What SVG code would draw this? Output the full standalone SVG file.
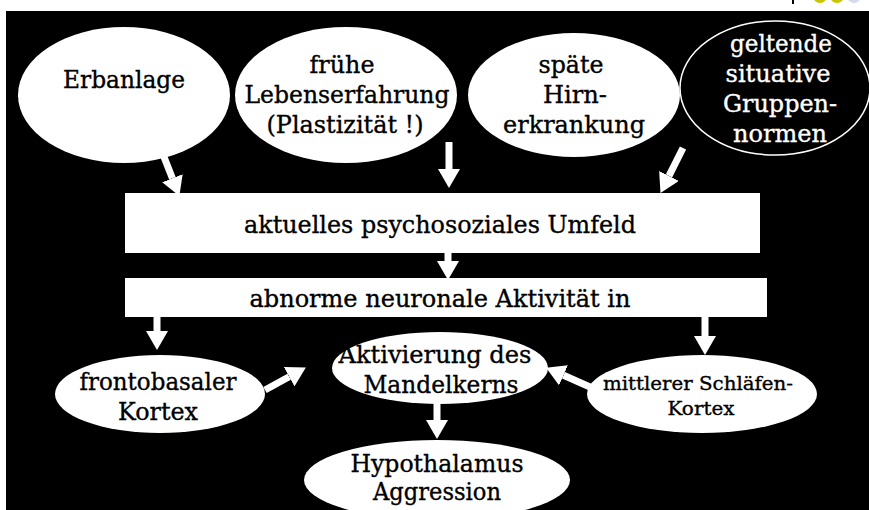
<svg xmlns="http://www.w3.org/2000/svg" width="869" height="510" viewBox="0 0 869 510">
<style>
text{font-family:"DejaVu Serif","Liberation Serif",serif;font-size:24px;fill:#000;stroke:#000;stroke-width:0.35;text-anchor:middle}
text.w{fill:#fff;stroke:#fff}
.node{fill:#fff}
.arr{stroke:#fff;stroke-width:7;fill:none;marker-end:url(#ah)}
</style>
<defs>
<marker id="ah" markerUnits="userSpaceOnUse" markerWidth="19" markerHeight="22" refX="0" refY="11" orient="auto" viewBox="0 0 19 22">
<path d="M0,0 L19,11 L0,22 z" fill="#fff"/>
</marker>
</defs>
<rect x="0" y="0" width="869" height="510" fill="#fff"/>
<rect x="6" y="11" width="863" height="499" fill="#000"/>
<rect x="792" y="0" width="2" height="4" fill="#000"/>
<circle cx="820" cy="-4" r="7" fill="#c9c500"/>
<circle cx="837" cy="-4" r="7" fill="#c9c500"/>
<circle cx="854" cy="-4" r="7" fill="#d9d9ec"/>

<g id="erbanlage">
<ellipse class="node" cx="124" cy="95" rx="106" ry="68"/>
<text x="124" y="88" textLength="122" lengthAdjust="spacingAndGlyphs">Erbanlage</text>
</g>
<g id="fruehe">
<ellipse class="node" cx="346" cy="95" rx="111" ry="68"/>
<text x="342" y="73" textLength="65" lengthAdjust="spacingAndGlyphs">frühe</text>
<text x="347" y="103" textLength="205" lengthAdjust="spacingAndGlyphs">Lebenserfahrung</text>
<text x="345" y="133" textLength="157" lengthAdjust="spacingAndGlyphs">(Plastizität !)</text>
</g>
<g id="spaete">
<ellipse class="node" cx="574" cy="95" rx="106" ry="62"/>
<text x="571" y="73" textLength="65" lengthAdjust="spacingAndGlyphs">späte</text>
<text x="575" y="103" textLength="64" lengthAdjust="spacingAndGlyphs">Hirn-</text>
<text x="574" y="133" textLength="142" lengthAdjust="spacingAndGlyphs">erkrankung</text>
</g>
<g id="normen">
<ellipse cx="775" cy="88" rx="95" ry="67" fill="#000" stroke="#fff" stroke-width="1.5"/>
<text class="w" x="781" y="52" textLength="102" lengthAdjust="spacingAndGlyphs">geltende</text>
<text class="w" x="778" y="82" textLength="105" lengthAdjust="spacingAndGlyphs">situative</text>
<text class="w" x="780" y="112" textLength="114" lengthAdjust="spacingAndGlyphs">Gruppen-</text>
<text class="w" x="780" y="142" textLength="94" lengthAdjust="spacingAndGlyphs">normen</text>
</g>
<g id="umfeld">
<rect class="node" x="125" y="193" width="635" height="60"/>
<text x="440" y="233" textLength="392" lengthAdjust="spacingAndGlyphs">aktuelles psychosoziales Umfeld</text>
</g>
<g id="aktivitaet">
<rect class="node" x="125" y="278" width="642" height="39"/>
<text x="440" y="307" textLength="381" lengthAdjust="spacingAndGlyphs">abnorme neuronale Aktivität in</text>
</g>
<g id="frontobasal">
<ellipse class="node" cx="160" cy="394" rx="105" ry="39"/>
<text x="158" y="390" textLength="157" lengthAdjust="spacingAndGlyphs">frontobasaler</text>
<text x="158" y="420" textLength="80" lengthAdjust="spacingAndGlyphs">Kortex</text>
</g>
<g id="mandelkern">
<ellipse class="node" cx="440" cy="368" rx="108" ry="36"/>
<text x="435" y="363" textLength="193" lengthAdjust="spacingAndGlyphs">Aktivierung des</text>
<text x="441" y="393" textLength="155" lengthAdjust="spacingAndGlyphs">Mandelkerns</text>
</g>
<g id="schlaefen">
<ellipse class="node" cx="702" cy="394" rx="115" ry="39"/>
<text x="698" y="390" style="font-size:19px" textLength="190" lengthAdjust="spacingAndGlyphs">mittlerer Schläfen-</text>
<text x="701" y="415" style="font-size:19px" textLength="67" lengthAdjust="spacingAndGlyphs">Kortex</text>
</g>
<g id="hypothalamus">
<ellipse class="node" cx="437" cy="480" rx="133" ry="40"/>
<text x="437" y="472" textLength="173" lengthAdjust="spacingAndGlyphs">Hypothalamus</text>
<text x="437" y="500" textLength="128" lengthAdjust="spacingAndGlyphs">Aggression</text>
</g>

<g id="connectors">
<line class="arr" x1="164" y1="157" x2="172.4" y2="178.3"/>
<line class="arr" x1="449" y1="142" x2="449" y2="169"/>
<line class="arr" x1="683" y1="148" x2="669" y2="175.9"/>
<line class="arr" x1="448" y1="253" x2="448" y2="261"/>
<line class="arr" x1="157" y1="317" x2="157" y2="331"/>
<line class="arr" x1="705" y1="317" x2="705" y2="336"/>
<line class="arr" x1="265" y1="390" x2="289.2" y2="376.7"/>
<line class="arr" x1="437" y1="403" x2="437" y2="420"/>
<line class="arr" x1="590" y1="387" x2="563.5" y2="375.3"/>
</g>
</svg>
